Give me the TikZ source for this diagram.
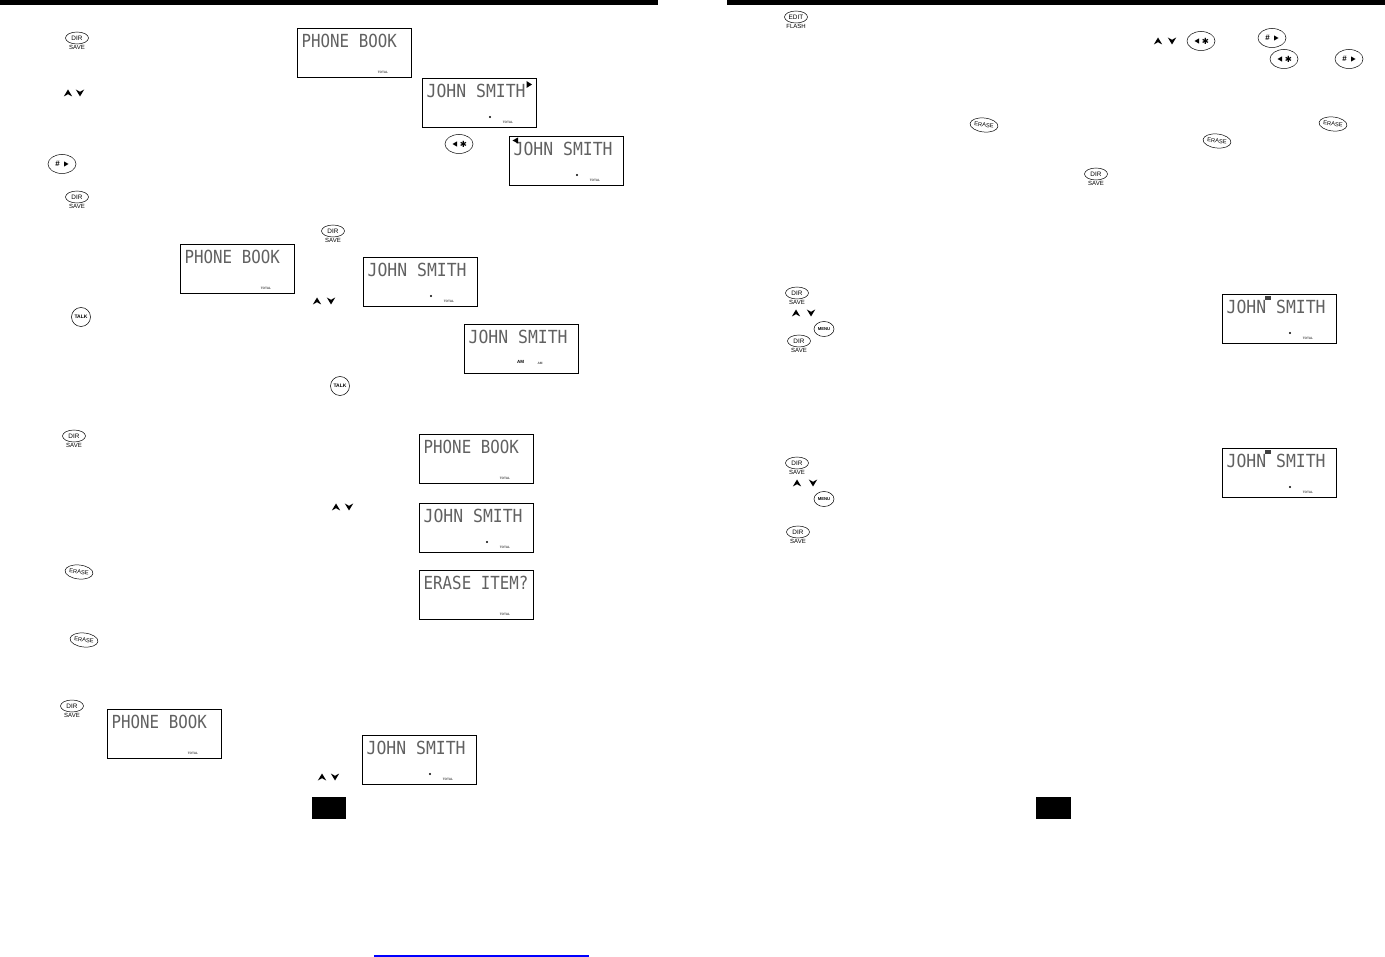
\documentclass[tikz,border=0pt]{standalone}
\usepackage{fontspec}
\setmainfont{Liberation Sans}
\newfontfamily\lcdfont{DejaVu Sans Mono}
\newfontfamily\symfont{DejaVu Sans}
\usetikzlibrary{shapes.geometric}
\tikzset{
  lcdbox/.style={draw=black,line width=1pt,fill=white,anchor=north west,minimum width=113.5pt,minimum height=49pt,inner sep=0pt},
  lcdtext/.style={anchor=west,inner sep=0pt,text=black!62,font=\lcdfont\fontsize{15.8}{16}\selectfont},
  tiny/.style={inner sep=0pt,font=\fontsize{3.2}{3}\selectfont\bfseries,text=black!70},
  btn/.style={ellipse,draw=black,line width=.5pt,fill=white,inner sep=0pt},
  dirbtn/.style={btn,minimum width=23pt,minimum height=12pt,font=\fontsize{6.4}{7}\selectfont},
  sublabel/.style={inner sep=0pt,font=\fontsize{6}{6}\selectfont},
  padbtn/.style={btn,minimum width=28pt,minimum height=19pt},
  erasebtn/.style={btn,minimum width=28pt,minimum height=14pt,rotate=-6,font=\fontsize{5.8}{6}\selectfont},
  menubtn/.style={btn,minimum width=20pt,minimum height=15pt,font=\fontsize{4.2}{4}\selectfont\bfseries},
  talkbtn/.style={btn,minimum width=19pt,minimum height=19pt,font=\fontsize{5}{5}\selectfont\bfseries},
  bar/.style={fill=black,draw=none},
}
\newcommand\jsmith{\scalebox{1.04}[1]{JOHN SMITH}}
% name, x, y, text
\newcommand\lcdpanel[4]{%
  \node[lcdbox] (#1) at (#2,#3) {};
  \node[lcdtext] (#1-t) at (#2+4.5,#3+12.5) {\scalebox{1}[1.14]{#4}};
}
\newcommand\lcdtotal[3]{\node[tiny] (#1-tot) at (#2+86,#3+44) {TOTAL};}
\newcommand\lcddot[3]{\node[fill=black,circle,inner sep=0pt,minimum size=2.2pt] (#1-dot) at (#2+68,#3+39) {};}
\newcommand\dirsave[3]{%
  \node[dirbtn] (#1) at (#2,#3) {DIR};
  \node[sublabel] (#1-s) at (#2,#3+9.5) {SAVE};
}
\newcommand\hashbtn[3]{%
  \node[padbtn] (#1) at (#2,#3) {};
  \node[inner sep=0pt,font=\fontsize{8}{8}\selectfont\bfseries] (#1-g) at (#2-4.5,#3) {\#};
  \fill (#2+2,#3-2.6) -- (#2+6.5,#3) -- (#2+2,#3+2.6) -- cycle;
}
\newcommand\starbtn[3]{%
  \node[padbtn] (#1) at (#2,#3) {};
  \node[inner sep=0pt,font=\symfont\fontsize{8.5}{8}\selectfont] (#1-g) at (#2+4.5,#3) {✱};
  \fill (#2-2,#3-2.6) -- (#2-6.5,#3) -- (#2-2,#3+2.6) -- cycle;
}
% up arrow x, down arrow x, y
\newcommand\updown[3]{%
  \fill (#1-4.2,#3+3.5) -- (#1,#3-3.5) -- (#1+4.2,#3+3.5) -- (#1,#3+1.2) -- cycle;
  \fill (#2-4.2,#3-3.5) -- (#2,#3+3.5) -- (#2+4.2,#3-3.5) -- (#2,#3-1.2) -- cycle;
}
\begin{document}
\begin{tikzpicture}[x=1pt,y=-1pt]
\useasboundingbox (0,0) rectangle (1385,957);
\fill[white] (0,0) rectangle (1385,957);
% top bars
\fill[bar] (0,0) rectangle (658,5);
\fill[bar] (727,0) rectangle (1385,5);
% ---------- left page
\dirsave{d1}{77}{38}
\updown{68}{80}{93}
\lcdpanel{l1}{297}{28}{PHONE BOOK}\lcdtotal{l1}{297}{28}
\lcdpanel{l2}{422}{78}{\jsmith}\lcdtotal{l2}{422}{78}\lcddot{l2}{422}{78}
\fill (526.5,81) -- (532,84.5) -- (526.5,88) -- cycle;
\starbtn{s1}{459}{144}
\lcdpanel{l3}{509}{136}{\jsmith}\lcdtotal{l3}{509}{136}\lcddot{l3}{509}{136}
\fill (518,137.5) -- (512.5,140.5) -- (518,143.5) -- cycle;
\hashbtn{h1}{62}{164}
\dirsave{d2}{77}{197}
\dirsave{d3}{333}{231}
\lcdpanel{l4}{180}{244}{PHONE BOOK}\lcdtotal{l4}{180}{244}
\lcdpanel{l5}{363}{257}{\jsmith}\lcdtotal{l5}{363}{257}\lcddot{l5}{363}{257}
\updown{317}{331}{301}
\node[talkbtn] (t1) at (81,317) {TALK};
\lcdpanel{l6}{464}{324}{\jsmith}
\node[tiny,font=\fontsize{4.5}{4}\selectfont\bfseries,text=black] (l6-am) at (520.5,362) {AM};
\node[tiny] (l6-am2) at (540,363) {AM};
\node[talkbtn] (t2) at (340,386) {TALK};
\dirsave{d4}{74}{436}
\lcdpanel{l7}{419}{434}{PHONE BOOK}\lcdtotal{l7}{419}{434}
\updown{336}{349}{507}
\lcdpanel{l8}{419}{503}{\jsmith}\lcdtotal{l8}{419}{503}\lcddot{l8}{419}{503}
\node[erasebtn] (e1) at (79,572) {ERASE};
\lcdpanel{l9}{419}{570}{ERASE ITEM?}\lcdtotal{l9}{419}{570}
\node[erasebtn] (e2) at (84,640) {ERASE};
\dirsave{d5}{72}{706}
\lcdpanel{l10}{107}{709}{PHONE BOOK}\lcdtotal{l10}{107}{709}
\lcdpanel{l11}{362}{735}{\jsmith}\lcdtotal{l11}{362}{735}\lcddot{l11}{362}{735}
\updown{322}{335}{777}
\fill[black] (312,797) rectangle (346,819);
\fill[blue] (374,955) rectangle (589,957);
% ---------- right page
\node[dirbtn] (ed) at (796,17) {EDIT};
\node[sublabel] (ed-s) at (796,26.5) {FLASH};
\updown{1158}{1172}{41}
\starbtn{s2}{1201}{41}
\hashbtn{h2}{1272}{38}
\starbtn{s3}{1284}{59}
\hashbtn{h3}{1349}{59}
\node[erasebtn] (e3) at (984,125) {ERASE};
\node[erasebtn] (e4) at (1333,124) {ERASE};
\node[erasebtn] (e5) at (1217,141) {ERASE};
\dirsave{d6}{1096}{174}
\dirsave{d7}{797}{293}
\updown{796}{811}{313}
\node[menubtn] (m1) at (824,329) {MENU};
\dirsave{d8}{799}{341}
\lcdpanel{l12}{1222}{294}{\jsmith}\lcdtotal{l12}{1222}{294}\lcddot{l12}{1222}{294}
\fill[black!75] (1264.5,296) rectangle (1270.5,300.5);
\dirsave{d9}{797}{463}
\updown{797}{813}{483}
\node[menubtn] (m2) at (824,499) {MENU};
\dirsave{d10}{798}{532}
\lcdpanel{l13}{1222}{448}{\jsmith}\lcdtotal{l13}{1222}{448}\lcddot{l13}{1222}{448}
\fill[black!75] (1264.5,450) rectangle (1270.5,454.5);
\fill[black] (1036,797) rectangle (1071,819);
\end{tikzpicture}
\end{document}
